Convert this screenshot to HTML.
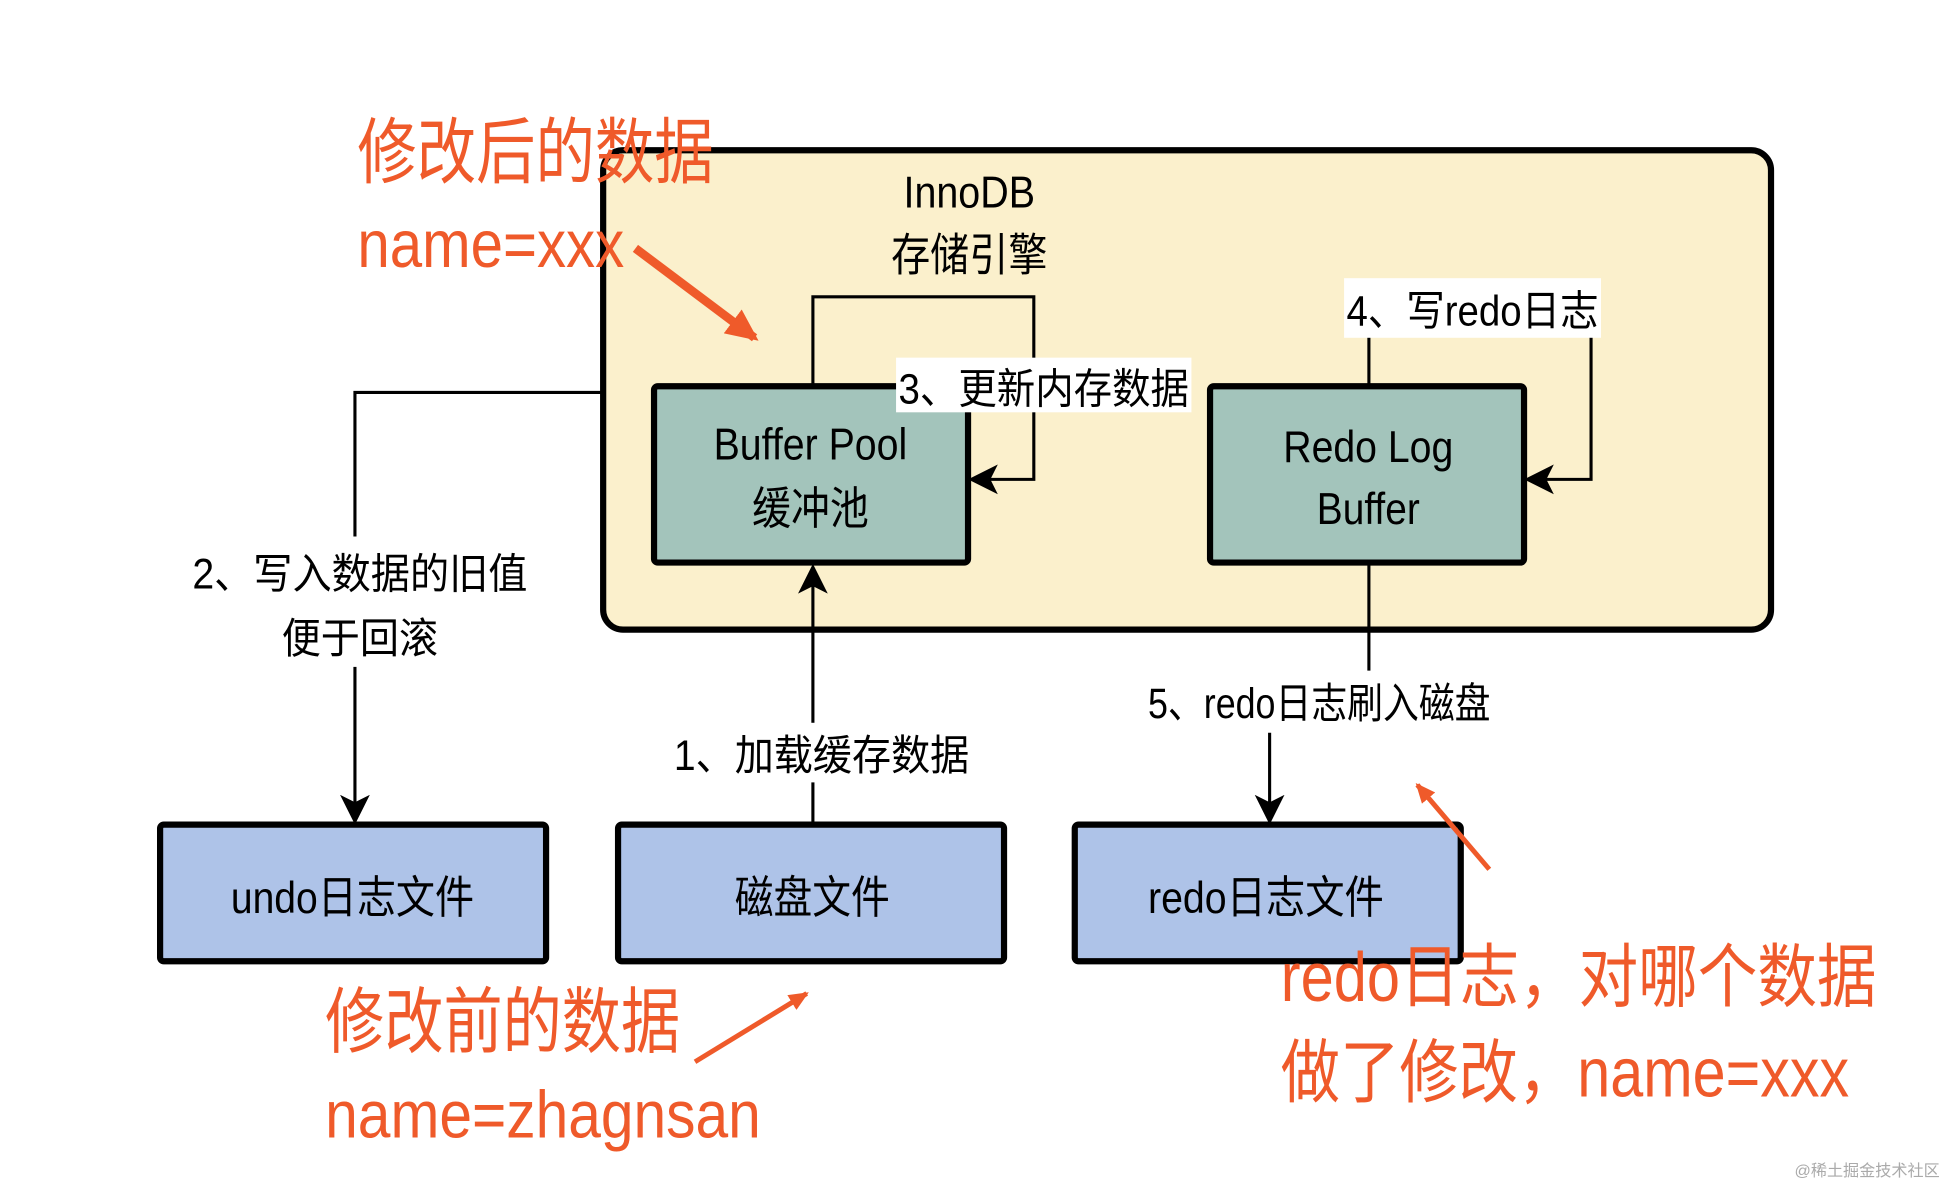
<!DOCTYPE html>
<html><head><meta charset="utf-8"><style>
html,body{margin:0;padding:0;background:#fff;}
svg{display:block;}
text{font-family:"Liberation Sans","Noto Sans CJK SC",sans-serif;}
</style></head><body>
<svg width="1946" height="1186" viewBox="0 0 1568 955" preserveAspectRatio="none" xmlns="http://www.w3.org/2000/svg">
<defs>
<marker id="b" markerWidth="24" markerHeight="24" refX="20" refY="12" orient="auto" markerUnits="userSpaceOnUse"><path d="M0,0 L24,12 L0,24 L6,12 z" fill="#000"/></marker>
<marker id="o" markerWidth="26" markerHeight="24" refX="22" refY="12" orient="auto" markerUnits="userSpaceOnUse"><path d="M0,0 L26,12 L0,24 z" fill="#ef5a2a"/></marker>
<marker id="o2" markerWidth="16" markerHeight="14" refX="14" refY="7" orient="auto" markerUnits="userSpaceOnUse"><path d="M0,0 L16,7 L0,14 z" fill="#ef5a2a"/></marker>
</defs>
<rect x="0" y="0" width="1568" height="955" fill="#fff"/>
<rect x="486" y="121" width="941" height="386" rx="16" fill="#fbf0cc" stroke="#000" stroke-width="5"/>
<text x="728" y="167" font-size="36" textLength="106" lengthAdjust="spacingAndGlyphs">InnoDB</text>
<text x="718" y="218" font-size="36" textLength="126" lengthAdjust="spacingAndGlyphs">存储引擎</text>
<!-- loop 3 -->
<polyline points="655,310 655,239 833,239 833,386 784,386" fill="none" stroke="#000" stroke-width="2.5" marker-end="url(#b)"/>
<!-- loop 4 -->
<polyline points="1103,310 1103,250 1282,250 1282,386 1232,386" fill="none" stroke="#000" stroke-width="2.5" marker-end="url(#b)"/>
<rect x="527" y="311" width="253" height="142" fill="#a3c4bb" stroke="#000" stroke-width="5" rx="3"/>
<text x="575" y="370" font-size="36" textLength="156" lengthAdjust="spacingAndGlyphs">Buffer Pool</text>
<text x="606" y="422" font-size="36" textLength="94" lengthAdjust="spacingAndGlyphs">缓冲池</text>
<rect x="975" y="311" width="253" height="142" fill="#a3c4bb" stroke="#000" stroke-width="5" rx="3"/>
<text x="1034" y="372" font-size="36" textLength="137" lengthAdjust="spacingAndGlyphs">Redo Log</text>
<text x="1061" y="422" font-size="36" textLength="83" lengthAdjust="spacingAndGlyphs">Buffer</text>
<rect x="722" y="288" width="238" height="44" fill="#fff"/>
<text x="724" y="325" font-size="34" textLength="234" lengthAdjust="spacingAndGlyphs">3、更新内存数据</text>
<rect x="1083" y="224" width="207" height="48" fill="#fff"/>
<text x="1085" y="262" font-size="34" textLength="203" lengthAdjust="spacingAndGlyphs">4、写redo日志</text>
<!-- line 2 -->
<polyline points="485,316 286,316 286,660" fill="none" stroke="#000" stroke-width="2.5" marker-end="url(#b)"/>
<rect x="150" y="432" width="280" height="105" fill="#fff"/>
<text x="155" y="474" font-size="34" textLength="270" lengthAdjust="spacingAndGlyphs">2、写入数据的旧值</text>
<text x="227" y="526" font-size="34" textLength="126" lengthAdjust="spacingAndGlyphs">便于回滚</text>
<!-- line 1 -->
<line x1="655" y1="663" x2="655" y2="458" stroke="#000" stroke-width="2.5" marker-end="url(#b)"/>
<rect x="540" y="582" width="245" height="48" fill="#fff"/>
<text x="543" y="620" font-size="34" textLength="238" lengthAdjust="spacingAndGlyphs">1、加载缓存数据</text>
<!-- line 5 -->
<line x1="1103" y1="453" x2="1103" y2="540" stroke="#000" stroke-width="2.5"/>
<text x="925" y="578" font-size="34" textLength="276" lengthAdjust="spacingAndGlyphs">5、redo日志刷入磁盘</text>
<line x1="1023" y1="590" x2="1023" y2="660" stroke="#000" stroke-width="2.5" marker-end="url(#b)"/>
<rect x="129" y="664" width="311" height="110" fill="#aec3e8" stroke="#000" stroke-width="5" rx="3"/>
<text x="186" y="735" font-size="36" textLength="196" lengthAdjust="spacingAndGlyphs">undo日志文件</text>
<rect x="498" y="664" width="311" height="110" fill="#aec3e8" stroke="#000" stroke-width="5" rx="3"/>
<text x="592" y="735" font-size="36" textLength="125" lengthAdjust="spacingAndGlyphs">磁盘文件</text>
<rect x="866" y="664" width="311" height="110" fill="#aec3e8" stroke="#000" stroke-width="5" rx="3"/>
<text x="925" y="735" font-size="36" textLength="190" lengthAdjust="spacingAndGlyphs">redo日志文件</text>
<!-- orange annotations -->
<text x="288" y="143" font-size="58" fill="#ef5a2a" textLength="287" lengthAdjust="spacingAndGlyphs">修改后的数据</text>
<text x="288" y="215" font-size="54" fill="#ef5a2a" textLength="215" lengthAdjust="spacingAndGlyphs">name=xxx</text>
<line x1="512" y1="200" x2="608" y2="272" stroke="#ef5a2a" stroke-width="7" marker-end="url(#o)"/>
<text x="262" y="843" font-size="58" fill="#ef5a2a" textLength="286" lengthAdjust="spacingAndGlyphs">修改前的数据</text>
<text x="262" y="916" font-size="54" fill="#ef5a2a" textLength="351" lengthAdjust="spacingAndGlyphs">name=zhagnsan</text>
<line x1="560" y1="855" x2="650" y2="800" stroke="#ef5a2a" stroke-width="4" marker-end="url(#o2)"/>
<text x="1032" y="806" font-size="56" fill="#ef5a2a" textLength="480" lengthAdjust="spacingAndGlyphs">redo日志，对哪个数据</text>
<text x="1032" y="883" font-size="56" fill="#ef5a2a" textLength="458" lengthAdjust="spacingAndGlyphs">做了修改，name=xxx</text>
<line x1="1200" y1="700" x2="1142" y2="632" stroke="#ef5a2a" stroke-width="4" marker-end="url(#o2)"/>
<text x="1563" y="947" font-size="13" fill="#aaa" text-anchor="end">@稀土掘金技术社区</text>
</svg>
</body></html>
